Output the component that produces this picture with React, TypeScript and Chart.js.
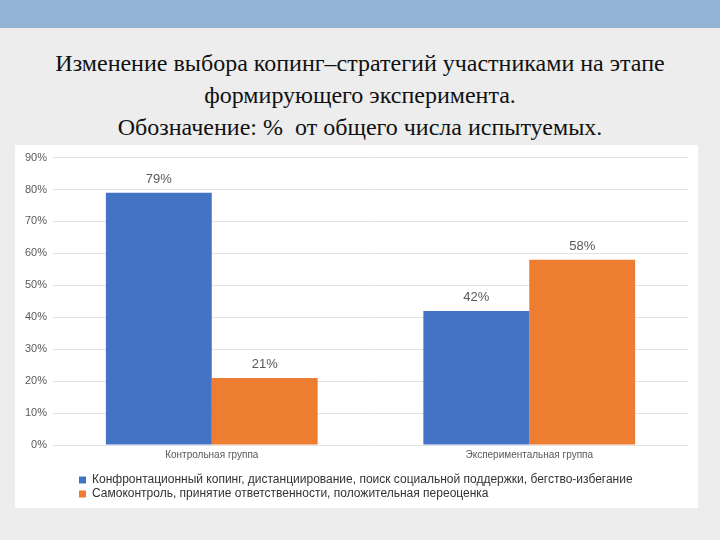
import React, { useEffect, useRef } from "react";
import { Chart, registerables } from "chart.js";

Chart.register(...registerables);

const categories = ["Контрольная группа", "Экспериментальная группа"];
const seriesNames = [
  "Конфронтационный копинг, дистанциирование, поиск социальной поддержки, бегство-избегание",
  "Самоконтроль, принятие ответственности, положительная переоценка",
];
const series1 = [79, 42];
const series2 = [21, 58];
const yTicks = [0, 10, 20, 30, 40, 50, 60, 70, 80, 90];
const titleLines = [
  "Изменение выбора копинг–стратегий участниками на этапе",
  "формирующего эксперимента.",
  "Обозначение: %  от общего числа испытуемых.",
];

const valueLabels = {
  id: "valueLabels",
  afterDatasetsDraw(chart: any) {
    const ctx = chart.ctx;
    ctx.save();
    ctx.font = "13px 'Liberation Sans', Arial, sans-serif";
    ctx.fillStyle = "#595959";
    ctx.textAlign = "center";
    ctx.textBaseline = "bottom";
    chart.data.datasets.forEach((ds: any, i: number) => {
      const meta = chart.getDatasetMeta(i);
      meta.data.forEach((el: any, j: number) => {
        ctx.fillText(ds.data[j] + "%", el.x, el.y - 7);
      });
    });
    ctx.restore();
  },
};

const legendShift = {
  id: "legendShift",
  afterLayout(chart: any) {
    const lg = chart.legend;
    if (lg) {
      lg.left += 58;
      lg.right += 58;
      lg.top += 7;
      lg.bottom += 7;
    }
  },
};

export default function App() {
  const ref = useRef<HTMLCanvasElement>(null);
  useEffect(() => {
    if (!ref.current) return;
    const chart = new Chart(ref.current, {
      type: "bar",
      data: {
        labels: categories,
        datasets: [
          { label: seriesNames[0], data: series1, backgroundColor: "#4472C4", borderWidth: 0 },
          { label: seriesNames[1], data: series2, backgroundColor: "#ED7D31", borderWidth: 0 },
        ],
      },
      options: {
        responsive: false,
        animation: false,
        maintainAspectRatio: false,
        layout: { padding: { left: 4, right: 10, top: 2, bottom: 5 } },
        datasets: { bar: { categoryPercentage: 0.667, barPercentage: 1.0 } } as any,
        scales: {
          x: {
            grid: { display: false, drawTicks: false },
            border: { display: false },
            ticks: {
              color: "#595959",
              font: { size: 10, family: "'Liberation Sans', Arial, sans-serif" },
              padding: 4,
            },
          },
          y: {
            min: 0,
            max: 90,
            afterBuildTicks(axis: any) {
              axis.ticks = yTicks.map((v) => ({ value: v }));
            },
            grid: { color: "#E3E3E3", drawTicks: false, lineWidth: 1 },
            border: { display: false },
            ticks: {
              color: "#595959",
              font: { size: 11, family: "'Liberation Sans', Arial, sans-serif" },
              padding: 6,
              callback: (v: any) => v + "%",
            },
          },
        },
        plugins: {
          legend: {
            position: "bottom",
            align: "start",
            labels: {
              boxWidth: 7,
              boxHeight: 7,
              padding: 2,
              color: "#333333",
              font: { size: 12, family: "'Liberation Sans', Arial, sans-serif" },
            },
          },
          tooltip: { enabled: false },
        },
      },
      plugins: [valueLabels, legendShift],
    });
    return () => chart.destroy();
  }, []);

  return (
    <div
      style={{
        position: "fixed",
        left: 0,
        top: 0,
        width: 720,
        height: 540,
        background: "#EDEDED",
        overflow: "hidden",
      }}
    >
      <div style={{ position: "absolute", left: 0, top: 0, width: 720, height: 28, background: "#93B3D4" }} />
      <div
        style={{
          position: "absolute",
          left: 0,
          top: 47,
          width: 720,
          textAlign: "center",
          fontFamily: "'Liberation Serif', 'DejaVu Serif', serif",
          fontSize: 24,
          lineHeight: "32px",
          color: "#111111",
        }}
      >
        {titleLines.map((t, i) => (
          <div key={i} style={{ whiteSpace: "pre" }}>{t}</div>
        ))}
      </div>
      <div style={{ position: "absolute", left: 15, top: 145, width: 683, height: 363, background: "#FFFFFF" }}>
        <canvas ref={ref} width={683} height={363} style={{ display: "block" }} />
      </div>
    </div>
  );
}
